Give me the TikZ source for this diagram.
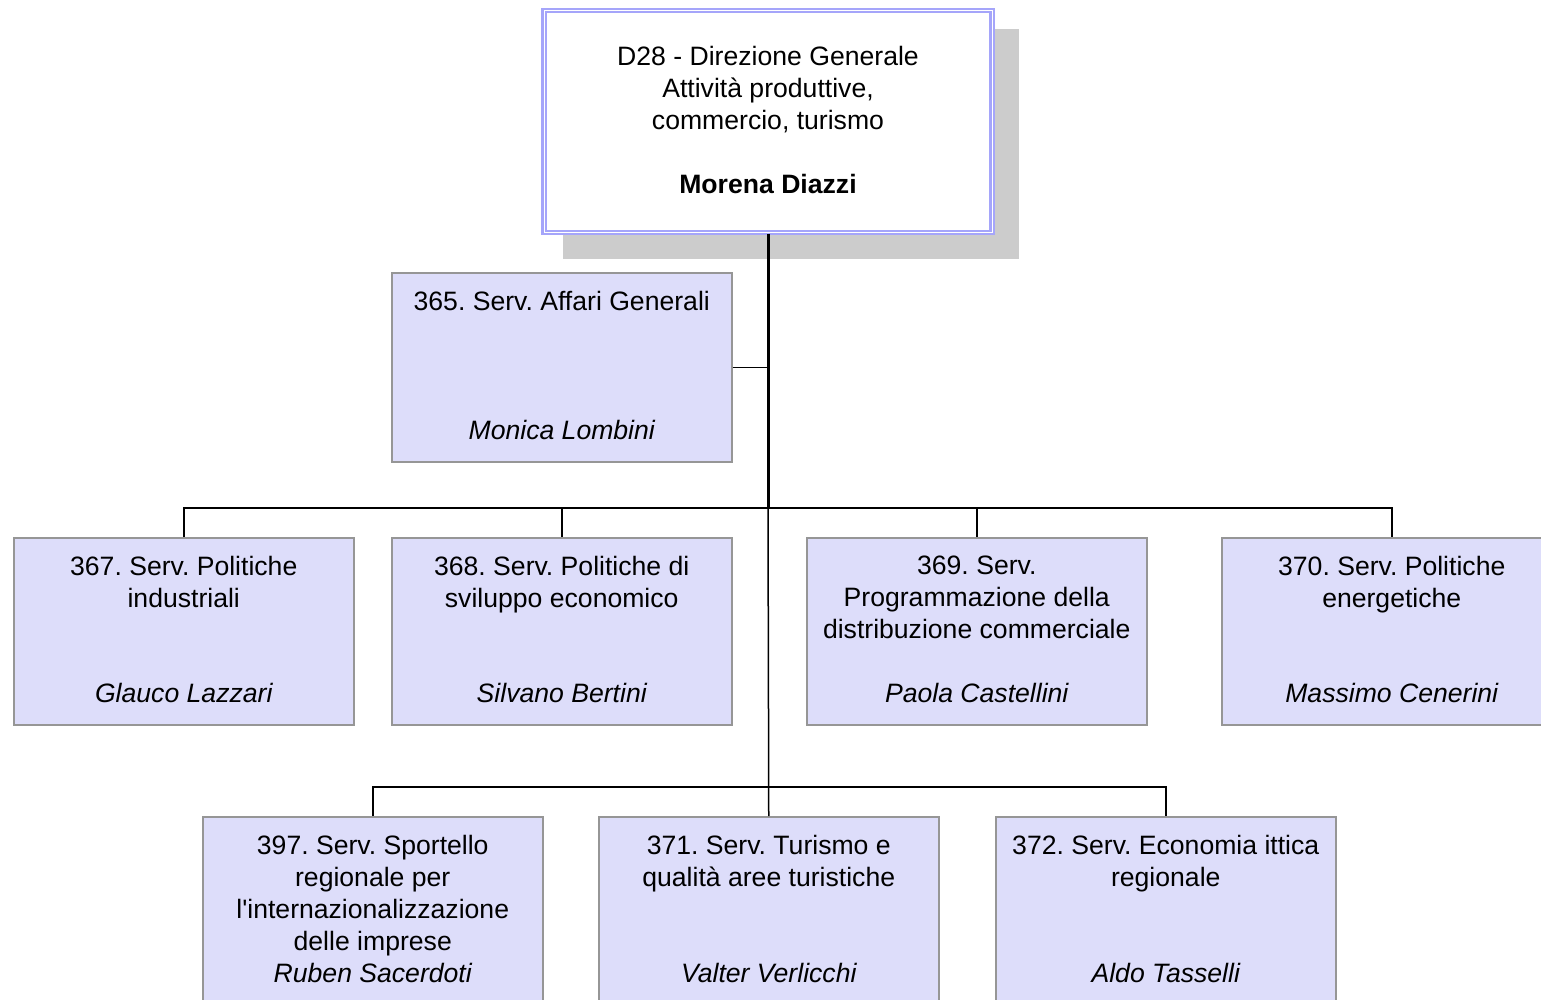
\documentclass[tikz,border=0pt]{standalone}
\usepackage{fontspec}
\setmainfont{Liberation Sans}
\frenchspacing
\begin{document}
\begin{tikzpicture}[x=0.5pt,y=-0.5pt,
  svc/.style={draw=svcborder, line width=0.75pt, fill=svcfill, anchor=north west, inner sep=0pt, minimum width=170pt},
  ttl/.style={anchor=north, inner sep=0pt, align=center, font=\fontsize{13.3}{16}\selectfont},
  nm/.style={anchor=base, inner sep=0pt, font=\fontsize{13.3}{16}\selectfont\itshape},
  conn/.style={draw=black, line width=0.75pt},
  trunk/.style={draw=black, line width=1.5pt}]
\definecolor{svcfill}{RGB}{221,221,250}
\definecolor{svcborder}{RGB}{150,150,150}
\definecolor{lav}{RGB}{165,165,250}
\definecolor{shadowgray}{RGB}{204,204,204}
\useasboundingbox (0,0) rectangle (1541,1000);
% top box
\fill[shadowgray] (563,29) rectangle (1019,259);
\node[draw=lav, double=white, double distance=0.5pt, line width=1.1pt, fill=white, inner sep=0pt,
      minimum width=224pt, minimum height=111pt] (top) at (768,121.5) {};
\node[ttl] (toptxt) at (768,45.5) {D28 - Direzione Generale\\Attività produttive,\\commercio, turismo\\[16pt]\textbf{Morena Diazzi}};
% service boxes
\node[svc, minimum height=94.5pt] (b365) at (391,272) {};
\node[svc, minimum height=93.5pt] (b367) at (13,537) {};
\node[svc, minimum height=93.5pt] (b368) at (391,537) {};
\node[svc, minimum height=93.5pt] (b369) at (806,537) {};
\node[svc, minimum height=93.5pt] (b370) at (1221,537) {};
\node[svc, minimum height=94pt] (b397) at (202,816) {};
\node[svc, minimum height=94pt] (b371) at (598,816) {};
\node[svc, minimum height=94pt] (b372) at (995,816) {};
% titles
\node[ttl] (t365) at ([yshift=-9.5pt]b365.north) {365. Serv. Affari Generali};
\node[ttl] (t367) at ([yshift=-9.5pt]b367.north) {367. Serv. Politiche\\industriali};
\node[ttl] (t368) at ([yshift=-9.5pt]b368.north) {368. Serv. Politiche di\\sviluppo economico};
\node[ttl] (t369) at ([yshift=-9.5pt]b369.north) {369. Serv.\\Programmazione della\\distribuzione commerciale};
\node[ttl] (t370) at ([yshift=-9.5pt]b370.north) {370. Serv. Politiche\\energetiche};
\node[ttl] (t397) at ([yshift=-9.5pt]b397.north) {397. Serv. Sportello\\regionale per\\l\textquotesingle internazionalizzazione\\delle imprese};
\node[ttl] (t371) at ([yshift=-9.5pt]b371.north) {371. Serv. Turismo e\\qualità aree turistiche};
\node[ttl] (t372) at ([yshift=-9.5pt]b372.north) {372. Serv. Economia ittica\\regionale};
% names
\node[nm] (n365) at ([yshift=11.75pt]b365.south) {Monica Lombini};
\node[nm] (n367) at ([yshift=11.75pt]b367.south) {Glauco Lazzari};
\node[nm] (n368) at ([yshift=11.75pt]b368.south) {Silvano Bertini};
\node[nm] (n369) at ([yshift=11.75pt]b369.south) {Paola Castellini};
\node[nm] (n370) at ([yshift=11.75pt]b370.south) {Massimo Cenerini};
\node[nm] (n397) at ([yshift=11.75pt]b397.south) {Ruben Sacerdoti};
\node[nm] (n371) at ([yshift=11.75pt]b371.south) {Valter Verlicchi};
\node[nm] (n372) at ([yshift=11.75pt]b372.south) {Aldo Tasselli};
% connectors
\coordinate (bus1) at (768,508);
\coordinate (bus2) at (768,787);
\draw[conn] (b365.east) -- (b365.east -| top.south);
\draw[conn] (b367.north) |- (bus1) -| (b370.north);
\draw[conn] (b368.north) |- (bus1);
\draw[conn] (b369.north) |- (bus1);
\draw[conn] (bus1) -- (b371.north);
\draw[conn] (b397.north) |- (bus2) -| (b372.north);
\draw[trunk] (top.south) -- (bus1);
\end{tikzpicture}
\end{document}
